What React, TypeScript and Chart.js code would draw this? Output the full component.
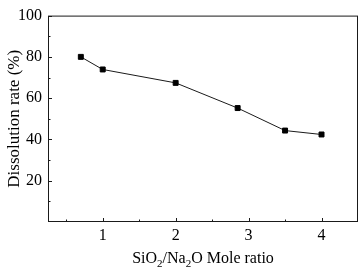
import React, { useEffect, useRef } from 'react';
import { Chart, registerables } from 'chart.js';

Chart.register(...registerables);

const ratios = [0.7, 1.0, 2.0, 2.85, 3.5, 4.0];
const dissolution = [80.0, 73.9, 67.4, 55.2, 44.3, 42.4];
const xTicks = [1, 2, 3, 4];
const xMinorTicks = [0.5, 1.5, 2.5, 3.5];
const yTicks = [20, 40, 60, 80, 100];
const yMinorTicks = [10, 30, 50, 70, 90];
const xTitleParts: { t: string; sub: boolean }[] = [
  { t: 'SiO', sub: false },
  { t: '2', sub: true },
  { t: '/Na', sub: false },
  { t: '2', sub: true },
  { t: 'O Mole ratio', sub: false },
];
const yTitle = 'Dissolution rate (%)';

const FONT = '"Liberation Serif", "Times New Roman", serif';

const framePlugin = {
  id: 'frameTicksTitles',
  afterDraw(chart: any) {
    const { ctx, chartArea: a, scales } = chart;
    const xs = scales.x;
    const ys = scales.y;
    ctx.save();
    ctx.strokeStyle = '#1a1a1a';
    ctx.lineWidth = 1;
    ctx.strokeRect(a.left + 0.5, a.top + 0.5, a.right - a.left - 1, a.bottom - a.top - 1);
    ctx.beginPath();
    const xTick = (v: number, len: number) => {
      const px = Math.round(xs.getPixelForValue(v)) + 0.5;
      ctx.moveTo(px, a.bottom);
      ctx.lineTo(px, a.bottom - len);
    };
    const yTick = (v: number, len: number) => {
      const py = Math.round(ys.getPixelForValue(v)) + 0.5;
      ctx.moveTo(a.left, py);
      ctx.lineTo(a.left + len, py);
    };
    xTicks.forEach((v) => xTick(v, 4));
    xMinorTicks.forEach((v) => xTick(v, 2.5));
    yTicks.forEach((v) => yTick(v, 4));
    yMinorTicks.forEach((v) => yTick(v, 2.5));
    ctx.stroke();

    // x title with subscripts
    ctx.fillStyle = '#000';
    ctx.textBaseline = 'alphabetic';
    ctx.textAlign = 'left';
    const mainFont = '16px ' + FONT;
    const subFont = '11px ' + FONT;
    let total = 0;
    xTitleParts.forEach((p) => {
      ctx.font = p.sub ? subFont : mainFont;
      total += ctx.measureText(p.t).width;
    });
    let cx = (a.left + a.right) / 2 - total / 2;
    const baseY = 263;
    xTitleParts.forEach((p) => {
      ctx.font = p.sub ? subFont : mainFont;
      ctx.fillText(p.t, cx, p.sub ? baseY + 4 : baseY);
      cx += ctx.measureText(p.t).width;
    });

    // y title
    ctx.translate(15, (a.top + a.bottom) / 2);
    ctx.rotate(-Math.PI / 2);
    ctx.textAlign = 'center';
    ctx.textBaseline = 'middle';
    ctx.font = '17px ' + FONT;
    ctx.fillText(yTitle, 0, 0);
    ctx.restore();
  },
};

export default function App() {
  const ref = useRef<HTMLCanvasElement | null>(null);

  useEffect(() => {
    if (!ref.current) return;
    const chart = new Chart(ref.current, {
      type: 'line',
      data: {
        datasets: [
          {
            data: ratios.map((r, i) => ({ x: r, y: dissolution[i] })),
            borderColor: '#1a1a1a',
            borderWidth: 1,
            backgroundColor: '#000',
            pointStyle: 'rect',
            pointRadius: 3.5,
            pointBorderWidth: 1,
            pointBorderColor: '#000',
            pointBackgroundColor: '#000',
            tension: 0,
            fill: false,
          },
        ],
      },
      options: {
        responsive: false,
        animation: false,
        events: [],
        layout: { padding: { left: 0, top: 9, right: 3, bottom: 0 } },
        plugins: { legend: { display: false }, tooltip: { enabled: false }, title: { display: false } },
        scales: {
          x: {
            type: 'linear',
            min: 0.25,
            max: 4.5,
            afterBuildTicks: (s: any) => {
              s.ticks = xTicks.map((v) => ({ value: v }));
            },
            afterFit: (s: any) => {
              s.height = 48;
            },
            grid: { display: false, drawTicks: false },
            border: { display: false },
            ticks: {
              padding: 4,
              color: '#000',
              font: { family: FONT, size: 16 },
              maxRotation: 0,
              autoSkip: false,
            },
          },
          y: {
            type: 'linear',
            min: 0,
            max: 100,
            afterBuildTicks: (s: any) => {
              s.ticks = yTicks.map((v) => ({ value: v }));
            },
            afterFit: (s: any) => {
              s.width = 48;
            },
            grid: { display: false, drawTicks: false },
            border: { display: false },
            ticks: {
              padding: 6,
              color: '#000',
              font: { family: FONT, size: 16 },
              autoSkip: false,
            },
          },
        },
      },
      plugins: [framePlugin],
    });
    return () => chart.destroy();
  }, []);

  return (
    <div style={{ position: 'fixed', left: 0, top: 0, width: 363, height: 270, background: '#fff' }}>
      <canvas ref={ref} width={363} height={270} style={{ display: 'block', width: 363, height: 270 }} />
    </div>
  );
}
